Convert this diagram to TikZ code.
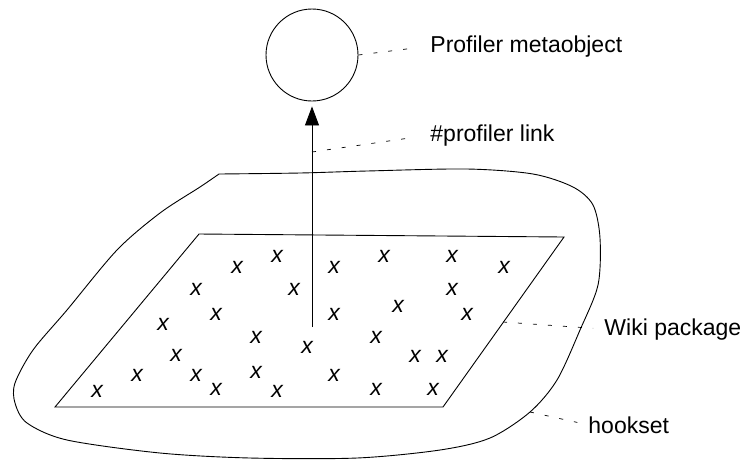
\documentclass[tikz,border=0pt]{standalone}
\usepackage{fontspec}
\setmainfont{Liberation Sans}
\usetikzlibrary{arrows.meta,positioning}

\begin{document}
\begin{tikzpicture}[
  x=1pt, y=-1pt,
  line width=0.9pt,
  lbl/.style={anchor=base west, inner sep=0pt, font=\fontsize{23}{27}\selectfont},
  cross/.style={inner sep=0pt, font=\fontsize{23}{27}\selectfont\itshape},
  leader/.style={line width=0.7pt, dash pattern=on 4pt off 11pt},
]
\useasboundingbox (0,0) rectangle (743,459);

% === Profiler metaobject ===
\node[draw, circle, minimum size=92pt, inner sep=0pt] (meta) at (312,55) {};
\node[lbl] (metalbl) at (430,52) {Profiler metaobject};
\draw[leader, shorten >=22pt] (meta.east) -- (metalbl.west);

% === Hookset outline ===
\draw plot[smooth] coordinates {
  (219,174) (300,173) (367,171) (467,169) (533,174) (573,187) (593,205)
  (600,238) (598,285) (580,330) (557,380) (530,412) (490,438) (440,450)
  (357,458) (250,458) (160,453) (67,440) (27,423) (15,403) (15,383)
  (33,350) (67,310) (117,250) (160,213) (200,187) (219,174)};

% === Wiki package ===
\coordinate (tl) at (199,234);
\coordinate (tr) at (564,237);
\coordinate (br) at (443,407);
\coordinate (bl) at (55,407);
\draw (tl) -- (tr) -- (br) -- (bl) -- cycle;

\foreach \px/\py [count=\i] in {277/256, 237/267, 334/267, 196/289, 294/289,
    216/314, 334/314, 163/324, 256/337, 307/347, 176/355, 137/375, 196/375,
    256/372, 334/375, 97/391, 216/389, 277/391, 384/256, 452/256, 504/267,
    452/289, 398/306, 467/314, 376/337, 415/356, 442/356, 376/389, 433/389} {
  \node[cross] (x\i) at (\px,\py) {x};
}

% === #profiler link ===
\coordinate (base) at (312,327);
\draw[-{Triangle[length=19pt,width=14pt]}, shorten >=5pt] (base) -- (meta.south);
\coordinate (linkpt) at (312,152);
\node[lbl] (linklbl) at (430,141) {\#profiler link};
\draw[leader, shorten >=15pt] (linkpt) -- (linklbl.west);

% === labels on the right ===
\coordinate (wikipt) at (503,322);
\node[lbl] (wikilbl) at (604,335) {Wiki package};
\draw[leader, shorten >=11pt] (wikipt) -- (wikilbl.west);

\coordinate (hookpt) at (530,412);
\node[lbl] (hooklbl) at (588,433) {hookset};
\draw[leader, shorten >=11pt] (hookpt) -- (hooklbl.west);

\end{tikzpicture}
\end{document}
